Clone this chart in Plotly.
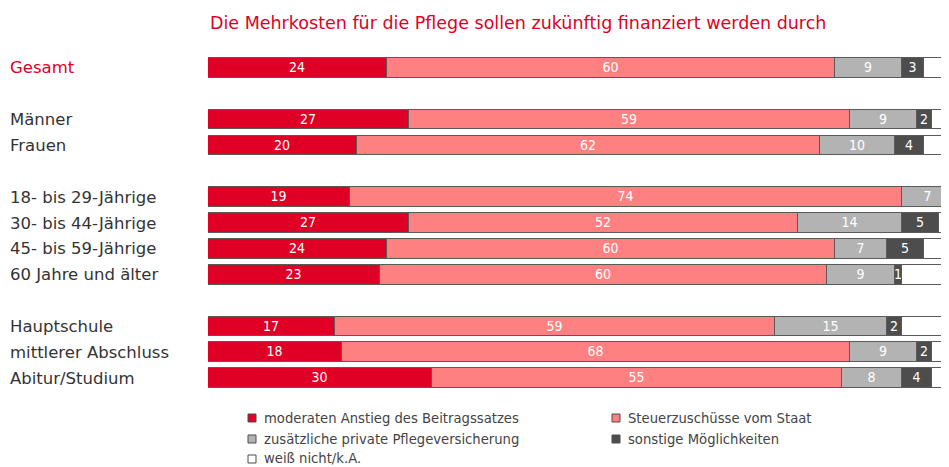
import plotly.graph_objects as go

categories = ["Gesamt", "Männer", "Frauen", "18- bis 29-Jährige", "30- bis 44-Jährige",
              "45- bis 59-Jährige", "60 Jahre und älter", "Hauptschule",
              "mittlerer Abschluss", "Abitur/Studium"]
rows = [0, 2, 3, 5, 6, 7, 8, 10, 11, 12]

series_names = ["moderaten Anstieg des Beitragssatzes", "Steuerzuschüsse vom Staat",
                "zusätzliche private Pflegeversicherung", "sonstige Möglichkeiten",
                "weiß nicht/k.A."]
beitrag = [24, 27, 20, 19, 27, 24, 23, 17, 18, 30]
steuer = [60, 59, 62, 74, 52, 60, 60, 59, 68, 55]
privat = [9, 9, 10, 7, 14, 7, 9, 15, 9, 8]
sonstige = [3, 2, 4, 0, 5, 5, 1, 2, 2, 4]
weissnicht = [4, 3, 4, 0, 2, 4, 7, 7, 3, 3]

colors = ["#E00025", "#FF8080", "#B3B3B3", "#4D4D4D", "#FFFFFF"]
values = [beitrag, steuer, privat, sonstige, weissnicht]

OFF = 8  # page body offset
W, H = 949 - OFF, 467 - OFF
L, R = 208 - OFF, 0
top, bottom = 42 - OFF, 404 - OFF
pw = W - L - R
ph = bottom - top

def px_x(xpx):
    return (xpx - OFF - L) / pw

def px_y(ypx):
    return 1 - (ypx - OFF - top) / ph

fig = go.Figure()
for i, (name, vals, col) in enumerate(zip(series_names, values, colors)):
    show_text = i < 4
    fig.add_trace(go.Bar(
        x=vals, y=rows, orientation="h", name=name,
        marker=dict(color=col, line=dict(color="#5A5A5A", width=1.2)),
        width=0.76,
        text=[str(v) if (show_text and v > 0) else "" for v in vals],
        textposition="inside", insidetextanchor="middle", textangle=0,
        textfont=dict(color="white", size=14, family="DejaVu Sans Condensed, DejaVu Sans, sans-serif"),
        showlegend=False, hoverinfo="skip", cliponaxis=True,
    ))

annotations = []
for cat, r in zip(categories, rows):
    annotations.append(dict(
        x=px_x(8), xref="paper", y=r, yref="y", text=cat, showarrow=False,
        xanchor="left", yanchor="middle",
        font=dict(size=16.5, color="#E00025" if cat == "Gesamt" else "#333333",
                  family="DejaVu Sans, sans-serif")))

annotations.append(dict(
    x=px_x(518), xref="paper", y=px_y(23), yref="paper", yanchor="middle",
    text="Die Mehrkosten für die Pflege sollen zukünftig finanziert werden durch",
    showarrow=False, xanchor="center",
    font=dict(size=17.5, color="#E00025", family="DejaVu Sans, sans-serif")))

leg_pos = [(248, 418), (612, 418), (248, 439), (612, 439), (248, 459)]
shapes = []
for (lx, ly), name, col in zip(leg_pos, series_names, colors):
    shapes.append(dict(type="rect", xref="paper", yref="paper",
                       x0=px_x(lx), x1=px_x(lx + 8),
                       y0=px_y(ly + 4), y1=px_y(ly - 4),
                       fillcolor=col, line=dict(color="#4D4D4D", width=1)))
    annotations.append(dict(x=px_x(lx + 14), xref="paper", y=px_y(ly), yref="paper",
                            text=name, showarrow=False, xanchor="left", yanchor="middle",
                            font=dict(size=13.2, color="#444444", family="DejaVu Sans, sans-serif")))

fig.update_layout(
    barmode="stack", width=W, height=H,
    margin=dict(l=L, r=R, t=top, b=H - bottom),
    plot_bgcolor="white", paper_bgcolor="white",
    xaxis=dict(range=[0, 99.3], visible=False, fixedrange=True),
    yaxis=dict(range=[13, -1], visible=False, fixedrange=True),
    uniformtext=dict(minsize=14, mode="show"),
    annotations=annotations, shapes=shapes, bargap=0,
)

fig.write_html("out.html")
